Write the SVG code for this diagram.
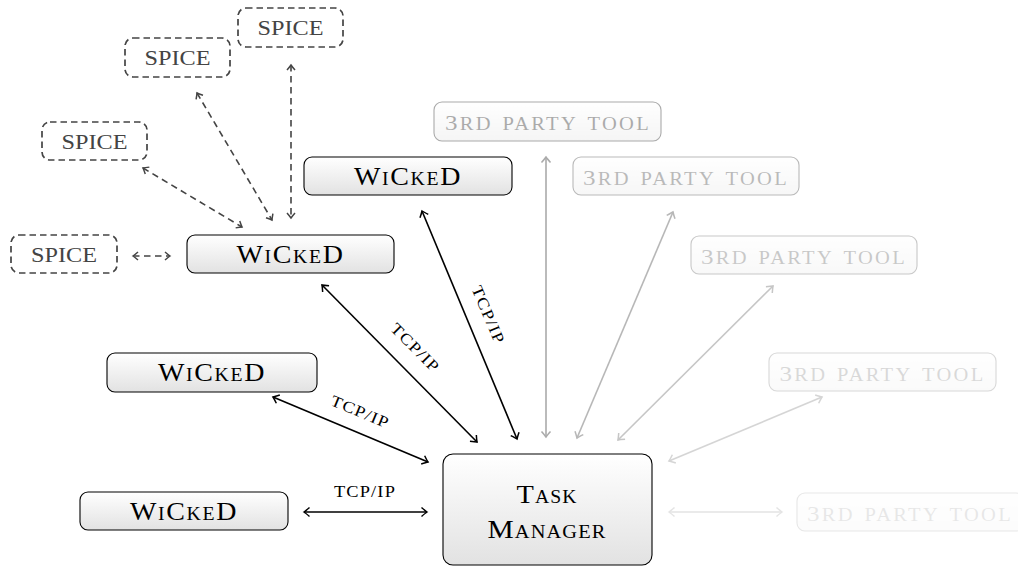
<svg xmlns="http://www.w3.org/2000/svg" width="1018" height="567" viewBox="0 0 1018 567">
<style>
.box{stroke:#000;stroke-width:1.1;fill:url(#g)}
.sp{fill:none;stroke:#444;stroke-width:1.7;stroke-dasharray:6.5 4}
.wt{font-family:"Liberation Serif",serif;font-size:25.5px;font-variant:small-caps;text-anchor:middle;fill:#000;letter-spacing:1.5px}
.mt{font-family:"Liberation Serif",serif;font-size:26px;font-variant:small-caps;text-anchor:middle;fill:#000;letter-spacing:1px}
.st{font-family:"Liberation Serif",serif;font-size:22px;text-anchor:middle;fill:#444}
.tt{font-family:"Liberation Serif",serif;font-size:22px;text-anchor:middle;fill:#000;letter-spacing:2px}
.sc{font-size:25.5px;font-variant:small-caps}
.lb{font-family:"Liberation Serif",serif;font-size:16px;text-anchor:middle;fill:#000;letter-spacing:1px}
.cn{fill:none;stroke:#000;stroke-width:1.6;marker-start:url(#ah);marker-end:url(#ah)}
.cd{fill:none;stroke:#444;stroke-width:1.6;stroke-dasharray:6.5 4.5;marker-start:url(#ahd);marker-end:url(#ahd)}
</style>
<defs>
<linearGradient id="g" x1="0" y1="0" x2="0" y2="1"><stop offset="0" stop-color="#fff"/><stop offset="1" stop-color="#e2e2e2"/></linearGradient>
<marker id="ah" viewBox="-7 -6 9 12" refX="0" refY="0" markerWidth="9" markerHeight="12" markerUnits="userSpaceOnUse" orient="auto-start-reverse"><path d="M-5.5,-4.5 Q-1.5,-1 0,0 Q-1.5,1 -5.5,4.5" fill="none" stroke="#000" stroke-width="1.5"/></marker>
<marker id="ahd" viewBox="-7 -6 9 12" refX="0" refY="0" markerWidth="9" markerHeight="12" markerUnits="userSpaceOnUse" orient="auto-start-reverse"><path d="M-5,-4 Q-1.5,-1 0,0 Q-1.5,1 -5,4" fill="none" stroke="#444" stroke-width="1.5"/></marker>
</defs>
<g id="connectors">
<line class="cn" x1="304" y1="512" x2="427" y2="512"/>
<line class="cn" x1="273" y1="397" x2="428" y2="462"/>
<line class="cn" x1="322" y1="285" x2="477" y2="442"/>
<line class="cn" x1="422" y1="211" x2="517" y2="439"/>
<g opacity="0.33"><line class="cn" x1="546" y1="157" x2="546" y2="437"/></g>
<g opacity="0.28"><line class="cn" x1="673" y1="212" x2="577" y2="438"/></g>
<g opacity="0.22"><line class="cn" x1="773" y1="286" x2="618" y2="440"/></g>
<g opacity="0.16"><line class="cn" x1="822" y1="397" x2="669" y2="461"/></g>
<g opacity="0.1"><line class="cn" x1="669" y1="512" x2="782" y2="512"/></g>
<line class="cd" x1="133" y1="256" x2="170" y2="256"/>
<line class="cd" x1="143" y1="168" x2="242" y2="227"/>
<line class="cd" x1="197" y1="93" x2="272" y2="220"/>
<line class="cd" x1="291" y1="65" x2="291" y2="218"/>
<text class="lb" x="365" y="497" textLength="62" lengthAdjust="spacingAndGlyphs">TCP/IP</text>
<g transform="translate(360,412) rotate(22.7)"><text class="lb" x="0" y="5" textLength="62" lengthAdjust="spacingAndGlyphs">TCP/IP</text></g>
<g transform="translate(415,348) rotate(45.2)"><text class="lb" x="0" y="5" textLength="62" lengthAdjust="spacingAndGlyphs">TCP/IP</text></g>
<g transform="translate(488,315) rotate(67)"><text class="lb" x="0" y="5" textLength="62" lengthAdjust="spacingAndGlyphs">TCP/IP</text></g>
</g>
<g id="task-manager"><rect class="box" x="443" y="454" width="209" height="111" rx="10"/><text class="mt" x="547" y="503" textLength="61" lengthAdjust="spacingAndGlyphs">Task</text><text class="mt" x="547" y="538" textLength="119" lengthAdjust="spacingAndGlyphs">Manager</text></g>
<g id="wicked1"><rect class="box" x="80" y="492" width="208" height="38" rx="8"/><text class="wt" x="184" y="519.5" textLength="108" lengthAdjust="spacingAndGlyphs">WiCkeD</text></g>
<g id="wicked2"><rect class="box" x="107" y="353" width="210" height="39" rx="8"/><text class="wt" x="212" y="381" textLength="108" lengthAdjust="spacingAndGlyphs">WiCkeD</text></g>
<g id="wicked3"><rect class="box" x="187" y="235" width="207" height="38" rx="8"/><text class="wt" x="290.5" y="262.5" textLength="108" lengthAdjust="spacingAndGlyphs">WiCkeD</text></g>
<g id="wicked4"><rect class="box" x="304" y="157" width="208" height="38" rx="8"/><text class="wt" x="408" y="184.5" textLength="108" lengthAdjust="spacingAndGlyphs">WiCkeD</text></g>
<g id="spice1"><rect class="sp" x="11" y="235" width="106" height="38" rx="8"/><text class="st" x="64" y="261.5" textLength="66" lengthAdjust="spacingAndGlyphs">SPICE</text></g>
<g id="spice2"><rect class="sp" x="42" y="122" width="105" height="38" rx="8"/><text class="st" x="94.5" y="148.5" textLength="66" lengthAdjust="spacingAndGlyphs">SPICE</text></g>
<g id="spice3"><rect class="sp" x="125" y="38" width="105" height="39" rx="8"/><text class="st" x="177.5" y="65" textLength="66" lengthAdjust="spacingAndGlyphs">SPICE</text></g>
<g id="spice4"><rect class="sp" x="238" y="8" width="105" height="39" rx="8"/><text class="st" x="290.5" y="35" textLength="66" lengthAdjust="spacingAndGlyphs">SPICE</text></g>
<g id="tool1" opacity="0.33"><rect class="box" x="434" y="102" width="227" height="39" rx="8"/><text class="tt" x="548" y="130" textLength="206" lengthAdjust="spacingAndGlyphs">3<tspan class="sc">rd party tool</tspan></text></g>
<g id="tool2" opacity="0.27"><rect class="box" x="573" y="157" width="226" height="38" rx="8"/><text class="tt" x="686" y="184.5" textLength="206" lengthAdjust="spacingAndGlyphs">3<tspan class="sc">rd party tool</tspan></text></g>
<g id="tool3" opacity="0.21"><rect class="box" x="691" y="236" width="226" height="38" rx="8"/><text class="tt" x="804" y="263.5" textLength="206" lengthAdjust="spacingAndGlyphs">3<tspan class="sc">rd party tool</tspan></text></g>
<g id="tool4" opacity="0.15"><rect class="box" x="769" y="353" width="227" height="38" rx="8"/><text class="tt" x="882.5" y="380.5" textLength="206" lengthAdjust="spacingAndGlyphs">3<tspan class="sc">rd party tool</tspan></text></g>
<g id="tool5" opacity="0.09"><rect class="box" x="797" y="493" width="227" height="38" rx="8"/><text class="tt" x="910" y="520.5" textLength="206" lengthAdjust="spacingAndGlyphs">3<tspan class="sc">rd party tool</tspan></text></g>
</svg>
